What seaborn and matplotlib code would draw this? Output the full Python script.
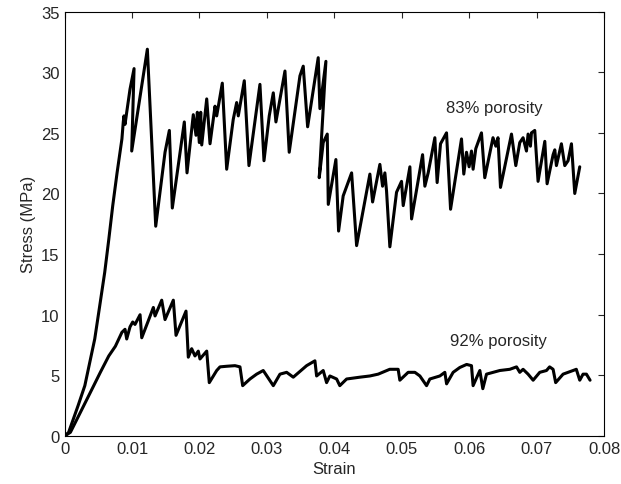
from matplotlib import pyplot as plt
import numpy as np
import pandas as pd
import seaborn as sns

# ----- datos -----
strain_83 = [0.0, 0.0006, 0.002, 0.003, 0.00447, 0.0052, 0.00595, 0.00655, 0.00714, 0.00778,
             0.0085, 0.0087, 0.0088, 0.00896, 0.00921, 0.0097, 0.0103, 0.00995, 0.01227, 0.01351,
             0.01489, 0.01553, 0.01597, 0.01775, 0.01815, 0.01908, 0.01948, 0.01968, 0.01997, 0.02018,
             0.02033, 0.02107, 0.02156, 0.0223, 0.02255, 0.02338, 0.02403, 0.025, 0.02551, 0.02575,
             0.02664, 0.02733, 0.02896, 0.02956, 0.03034, 0.03094, 0.03133, 0.03267, 0.0333, 0.03489,
             0.03538, 0.03548, 0.03603, 0.0376, 0.03785, 0.03874, 0.03775, 0.03834, 0.03894, 0.03909,
             0.04022, 0.04062, 0.0413, 0.04255, 0.04329, 0.04526, 0.04566, 0.04674, 0.04714, 0.04748,
             0.04773, 0.04822, 0.04921, 0.04995, 0.0502, 0.05119, 0.05144, 0.05307, 0.05341, 0.0539,
             0.05489, 0.05523, 0.05573, 0.05662, 0.05722, 0.05884, 0.05918, 0.05958, 0.05997, 0.06032,
             0.06056, 0.06096, 0.0618, 0.06229, 0.06351, 0.06393, 0.06425, 0.06462, 0.06625, 0.06689,
             0.06748, 0.06797, 0.06847, 0.06871, 0.06906, 0.06921, 0.0697, 0.07019, 0.07119, 0.07153,
             0.07242, 0.07267, 0.07291, 0.07365, 0.07415, 0.07464, 0.07514, 0.07563, 0.07637]
stress_83 = [0.0, 0.3, 2.5, 4.15, 8.0, 10.7, 13.5, 16.2, 19.0, 21.7,
             24.5, 25.9, 26.4, 25.7, 26.7, 28.6, 30.3, 23.5, 31.9, 17.3,
             23.4, 25.2, 18.8, 25.9, 21.7, 26.5, 24.8, 26.7, 24.2, 26.7,
             24.0, 27.8, 24.1, 27.2, 26.4, 29.1, 22.0, 26.1, 27.5, 26.4,
             29.3, 22.3, 29.0, 22.7, 26.4, 28.3, 25.9, 30.1, 23.4, 29.7,
             30.5, 29.7, 25.5, 31.2, 27.0, 30.9, 21.3, 24.2, 24.9, 19.1,
             22.8, 16.9, 19.8, 21.7, 15.7, 21.6, 19.3, 22.4, 20.6, 21.7,
             20.2, 15.6, 20.1, 21.0, 19.0, 22.2, 17.9, 23.2, 20.6, 21.7,
             24.6, 20.9, 24.1, 25.0, 18.7, 24.5, 21.6, 23.4, 22.2, 23.5,
             22.0, 23.7, 25.0, 21.3, 24.6, 23.9, 24.6, 20.5, 24.9, 22.3,
             24.2, 24.6, 23.5, 24.9, 23.9, 25.0, 25.2, 21.0, 24.3, 20.8,
             23.2, 23.6, 22.3, 24.1, 22.3, 22.7, 24.1, 20.0, 22.2]

strain_92 = [0.0, 0.00086, 0.00284, 0.00432, 0.0053, 0.00655, 0.00753, 0.0085, 0.00896, 0.00921,
             0.0097, 0.0101, 0.01044, 0.01119, 0.01144, 0.01241, 0.01316, 0.01341, 0.0144, 0.01489,
             0.01612, 0.01652, 0.018, 0.01834, 0.01884, 0.01933, 0.01982, 0.02007, 0.02107, 0.02145,
             0.02255, 0.02304, 0.02403, 0.02526, 0.026, 0.0264, 0.02748, 0.02847, 0.02945, 0.03094,
             0.03193, 0.03292, 0.0339, 0.03588, 0.03711, 0.03736, 0.03834, 0.03884, 0.03933, 0.04033,
             0.0408, 0.04181, 0.04378, 0.04526, 0.04649, 0.0482, 0.04945, 0.0497, 0.05093, 0.05193,
             0.05267, 0.05366, 0.05415, 0.05563, 0.05637, 0.05663, 0.0576, 0.05859, 0.0596, 0.06032,
             0.06056, 0.06156, 0.0620, 0.06255, 0.06452, 0.066, 0.0670, 0.06748, 0.06797, 0.06871,
             0.06946, 0.07044, 0.07144, 0.0719, 0.07242, 0.0728, 0.0739, 0.07538, 0.07586, 0.07637,
             0.07686, 0.07736, 0.0779]
stress_92 = [0.0, 0.3, 2.5, 4.15, 5.25, 6.6, 7.4, 8.55, 8.8, 8.0,
             9.0, 9.4, 9.2, 10.0, 8.1, 9.5, 10.6, 9.9, 11.2, 9.6,
             11.2, 8.3, 10.3, 6.5, 7.2, 6.6, 7.0, 6.35, 7.0, 4.4,
             5.4, 5.7, 5.75, 5.8, 5.7, 4.15, 4.7, 5.1, 5.4, 4.15,
             5.1, 5.25, 4.85, 5.8, 6.2, 4.95, 5.4, 4.4, 4.95, 4.7,
             4.15, 4.7, 4.85, 4.95, 5.1, 5.5, 5.5, 4.6, 5.25, 5.25,
             4.95, 4.15, 4.7, 4.95, 5.25, 4.3, 5.25, 5.65, 5.9, 5.8,
             4.15, 5.4, 3.9, 5.1, 5.4, 5.5, 5.7, 5.25, 5.5, 5.1,
             4.6, 5.25, 5.4, 5.7, 5.5, 4.4, 5.1, 5.4, 5.5, 4.6,
             5.1, 5.1, 4.6]

xticks = [0, 0.01, 0.02, 0.03, 0.04, 0.05, 0.06, 0.07, 0.08]
xtick_labels = ['0', '0.01', '0.02', '0.03', '0.04', '0.05', '0.06', '0.07', '0.08']
yticks = [0, 5, 10, 15, 20, 25, 30, 35]

# ----- estilo -----
sns.set_style('white')
plt.rcParams['font.family'] = ['Liberation Sans', 'DejaVu Sans']
plt.rcParams['font.size'] = 12

fig, ax = plt.subplots(figsize=(6.21, 4.85), dpi=100)
fig.subplots_adjust(left=0.104, right=0.973, bottom=0.099, top=0.974)

sns.lineplot(x=strain_83, y=stress_83, sort=False, estimator=None, color='black', lw=2.2, ax=ax)
sns.lineplot(x=strain_92, y=stress_92, sort=False, estimator=None, color='black', lw=2.2, ax=ax)

ax.text(0.0566, 27.1, '83% porosity', va='center', fontsize=12)
ax.text(0.0571, 7.85, '92% porosity', va='center', fontsize=12)

ax.set_xlim(0, 0.08)
ax.set_ylim(0, 35)
ax.set_xticks(xticks)
ax.set_xticklabels(xtick_labels)
ax.set_yticks(yticks)
ax.set_xlabel('Strain', fontsize=12)
ax.set_ylabel('Stress (MPa)', fontsize=12)
ax.tick_params(direction='in', top=True, right=True, length=4, width=0.8, labelsize=12)
for s in ax.spines.values():
    s.set_color('black')
    s.set_linewidth(0.8)

plt.savefig('out.png', dpi=100)
